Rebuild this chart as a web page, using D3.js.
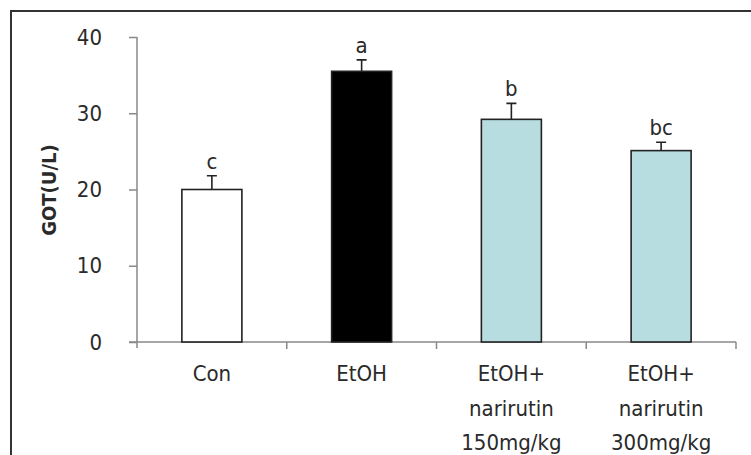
<!DOCTYPE html>
<html>
<head>
<meta charset="utf-8">
<script src="https://cdn.jsdelivr.net/npm/d3@7"></script>
<style>
  html, body { margin: 0; padding: 0; background: #fff; }
  svg { display: block; }
  text { font-family: "DejaVu Sans Condensed", "DejaVu Sans", sans-serif; font-stretch: condensed; fill: #2a2a2a; }
</style>
</head>
<body>
<svg id="chart" width="751" height="455"></svg>
<script>
// Serum GOT by treatment group
const groups = ["Con", "EtOH", "EtOH+\nnarirutin\n150mg/kg", "EtOH+\nnarirutin\n300mg/kg"];
const means = [20.0, 35.5, 29.2, 25.1];
const errors = [1.8, 1.5, 2.1, 1.1];
const letters = ["c", "a", "b", "bc"];
const fills = ["#ffffff", "#000000", "#b7dde0", "#b7dde0"];
const yTicks = [0, 10, 20, 30, 40];

const svg = d3.select("#chart");
const FONT = "\"DejaVu Sans Condensed\", \"DejaVu Sans\", sans-serif";

// outer frame
svg.append("rect")
  .attr("x", 11).attr("y", 11)
  .attr("width", 780).attr("height", 480)
  .attr("fill", "none").attr("stroke", "#333").attr("stroke-width", 2);

const plot = { left: 137, right: 736, top: 37, bottom: 342 };

const xOuter = d3.scaleBand().domain(groups).range([plot.left, plot.right]);
const y = d3.scaleLinear().domain([0, 40]).range([plot.bottom, plot.top]);

// y axis
const yAxis = svg.append("g")
  .attr("transform", `translate(${plot.left},0)`)
  .call(d3.axisLeft(y).tickValues(yTicks).tickSize(8).tickSizeOuter(0).tickPadding(27));
yAxis.select(".domain").attr("stroke", "#888").attr("stroke-width", 1.5)
  .attr("d", `M0,${plot.top}V${plot.bottom + 6}`);
yAxis.selectAll(".tick line").attr("stroke", "#888").attr("stroke-width", 1.5);
yAxis.selectAll(".tick text")
  .style("font-size", "22px").style("font-family", FONT)
  .attr("fill", "#2a2a2a");

// x axis line with boundary ticks
svg.append("line")
  .attr("x1", plot.left - 8).attr("x2", plot.right)
  .attr("y1", plot.bottom).attr("y2", plot.bottom)
  .attr("stroke", "#888").attr("stroke-width", 1.5);
svg.selectAll(".xtick")
  .data(groups)
  .join("line")
  .attr("class", "xtick")
  .attr("x1", d => xOuter(d) + xOuter.bandwidth())
  .attr("x2", d => xOuter(d) + xOuter.bandwidth())
  .attr("y1", plot.bottom).attr("y2", plot.bottom + 7)
  .attr("stroke", "#888").attr("stroke-width", 1.5);

// category labels
svg.selectAll(".xlabel")
  .data(groups)
  .join("text")
  .attr("class", "xlabel")
  .attr("text-anchor", "middle")
  .style("font-size", "22px")
  .attr("transform", d => `translate(${xOuter(d) + xOuter.bandwidth() / 2},${plot.bottom + 39})`)
  .selectAll("tspan")
  .data(d => d.split("\n"))
  .join("tspan")
  .attr("x", 0)
  .attr("y", (d, i) => i * 34.5)
  .text(d => d);

// bars
const data = groups.map((g, i) => ({ g, m: means[i], e: errors[i], l: letters[i], f: fills[i] }));
const bx = d => xOuter(d.g) + xOuter.bandwidth() / 2;
const bw = 60;

svg.selectAll(".bar")
  .data(data)
  .join("rect")
  .attr("class", "bar")
  .attr("x", d => bx(d) - bw / 2)
  .attr("width", bw)
  .attr("y", d => y(d.m))
  .attr("height", d => y(0) - y(d.m))
  .attr("fill", d => d.f)
  .attr("stroke", "#222").attr("stroke-width", 1.6);

// error bars (upper)
svg.selectAll(".err")
  .data(data)
  .join("path")
  .attr("class", "err")
  .attr("d", d => `M${bx(d)},${y(d.m)}V${y(d.m + d.e)}M${bx(d) - 5},${y(d.m + d.e)}H${bx(d) + 5}`)
  .attr("stroke", "#222").attr("stroke-width", 1.6).attr("fill", "none");

// significance letters
svg.selectAll(".sig")
  .data(data)
  .join("text")
  .attr("class", "sig")
  .attr("x", d => bx(d))
  .attr("y", d => y(d.m + d.e) - 7)
  .attr("text-anchor", "middle")
  .style("font-size", "22px")
  .text(d => d.l);

// y axis title
svg.append("text")
  .attr("transform", "translate(56,190) rotate(-90)")
  .attr("text-anchor", "middle")
  .style("font-size", "20px").style("font-weight", "bold")
  .text("GOT(U/L)");
</script>
</body>
</html>
